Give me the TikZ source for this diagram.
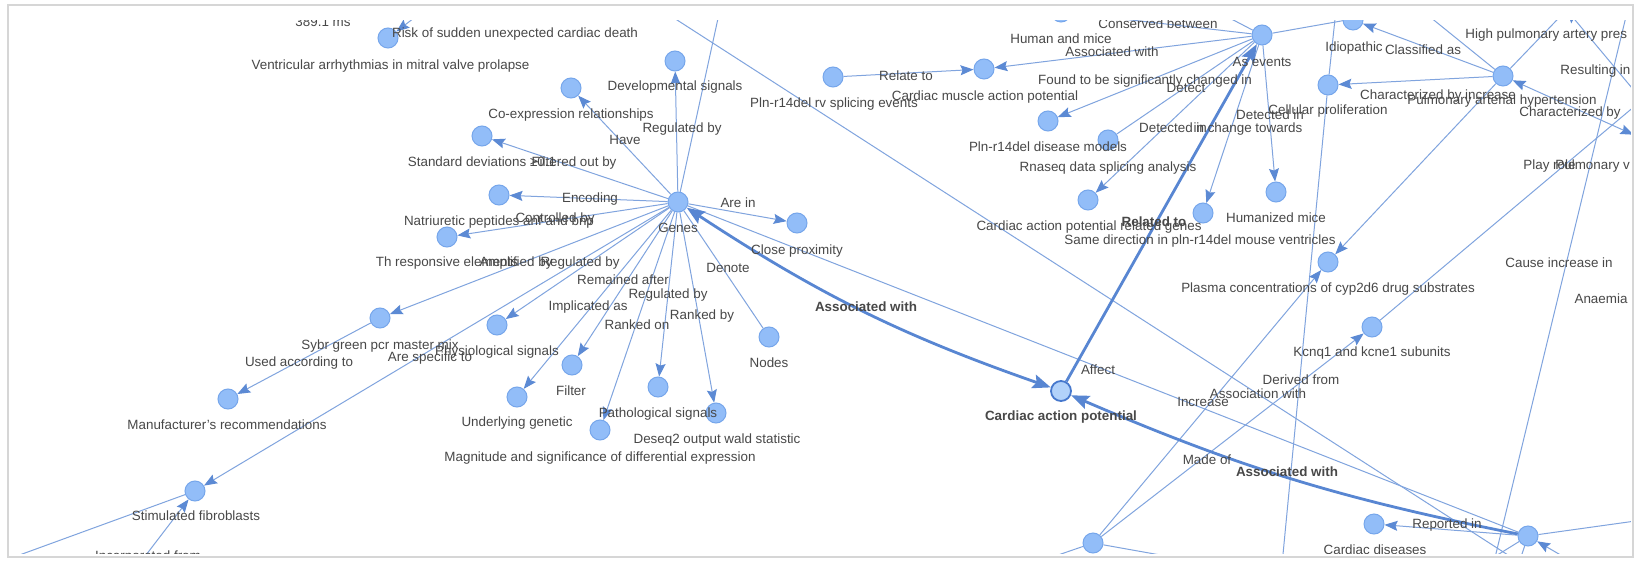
\documentclass[tikz,border=0pt]{standalone}
\usepackage{fontspec}
\setmainfont{Liberation Sans}
\usetikzlibrary{arrows.meta}
\pgfdeclarelayer{bgl}
\pgfdeclarelayer{edges}
\pgfsetlayers{bgl,edges,main}
\definecolor{edgec}{RGB}{128,164,222}
\definecolor{arrc}{RGB}{92,138,212}
\definecolor{thickc}{RGB}{88,134,210}
\definecolor{nfill}{RGB}{146,189,248}
\definecolor{nbord}{RGB}{118,166,235}
\definecolor{selfill}{RGB}{178,210,250}
\definecolor{selbord}{RGB}{70,120,205}
\definecolor{txtc}{RGB}{72,72,72}
\definecolor{framec}{RGB}{214,214,214}
\tikzset{
 vn/.style={circle, fill=nfill, draw=nbord, line width=0.5pt, minimum size=10pt, inner sep=0pt},
 vsel/.style={circle, fill=selfill, draw=selbord, line width=0.9pt, minimum size=10pt, inner sep=0pt},
 ed/.style={draw=edgec, line width=0.5pt},
 ea/.style={ed, -{Stealth[length=6.5pt,width=5pt,inset=1pt,color=arrc]}},
 eab/.style={ed, {Stealth[length=6.5pt,width=5pt,inset=1pt,color=arrc]}-{Stealth[length=6.5pt,width=5pt,inset=1pt,color=arrc]}},
 et/.style={draw=thickc, line width=1.4pt},
 eta/.style={et, -{Stealth[length=9pt,width=7pt,inset=1.5pt,color=thickc]}},
 etb/.style={et, {Stealth[length=9pt,width=7pt,inset=1.5pt,color=thickc]}-{Stealth[length=9pt,width=7pt,inset=1.5pt,color=thickc]}},
 lbl/.style={font=\fontsize{6.7}{8}\selectfont, text=txtc, inner sep=0pt, anchor=base, yshift=-2.2pt},
 lblw/.style={lbl, anchor=base west},
 lblb/.style={lbl, font=\fontsize{6.7}{8}\selectfont\bfseries},
}
\begin{document}
\begin{tikzpicture}[x=0.5pt,y=-0.5pt]
\useasboundingbox (0,0) rectangle (1642,561);
\begin{pgfonlayer}{bgl}
\fill[white] (0,0) rectangle (1642,561);
\end{pgfonlayer}
% ---------- nodes ----------
\node[vn] (vamvp) at (388,38) {};
\node[vn] (genes) at (678,202) {};
\node[vn] (devsig) at (675,61) {};
\node[vn] (coexp) at (571,88) {};
\node[vn] (stddev) at (482,136) {};
\node[vn] (natri) at (499,195) {};
\node[vn] (thresp) at (447,237) {};
\node[vn] (sybr) at (380,318) {};
\node[vn] (physio) at (497,325) {};
\node[vn] (manuf) at (228,399) {};
\node[vn] (stim) at (195,491) {};
\node[vn] (underl) at (517,397) {};
\node[vn] (filter) at (572,365) {};
\node[vn] (magn) at (600,430) {};
\node[vn] (patho) at (658,387) {};
\node[vn] (deseq) at (716,413) {};
\node[vn] (nodesn) at (769,337) {};
\node[vn] (closep) at (797,223) {};
\node[vsel] (cap) at (1061,391) {};
\node[vn] (asev) at (1262,35) {};
\node[vn] (cmap) at (984,69) {};
\node[vn] (plnrv) at (833,77) {};
\node[vn] (human) at (1061,12) {};
\node[vn] (plndm) at (1048,121) {};
\node[vn] (rnaseq) at (1108,140) {};
\node[vn] (caprg) at (1088,200) {};
\node[vn] (samedir) at (1203,213) {};
\node[vn] (humz) at (1276,192) {};
\node[vn] (cellp) at (1328,85) {};
\node[vn] (idio) at (1353,20) {};
\node[vn] (pah) at (1503,76) {};
\node[vn] (plasma) at (1328,262) {};
\node[vn] (kcnq) at (1372,327) {};
\node[vn] (cdis) at (1374,524) {};
\node[vn] (br) at (1528,536) {};
\node[vn] (bn) at (1093,543) {};
\node[vn] (highp) at (1560,2) {};
\node[vn] (ynode) at (1642,100) {};
\node[vn] (znode) at (1643,139) {};
% ---------- free ends ----------
\coordinate (cGtop) at (722,0);
\coordinate (cVamvp) at (440,-2);
\coordinate (cStimLL) at (-145,615);
\coordinate (cIncorp) at (110,602);
\coordinate (cL2a) at (646,0);
\coordinate (cL2b) at (1539,575);
\coordinate (cAsevNE) at (1460,0);
\coordinate (cAsevNW) at (1195,0);
\coordinate (cPahNW) at (1409,0);
\coordinate (cPahNE) at (1578,-2);
\coordinate (cVtop) at (1337,0);
\coordinate (cVbot) at (1281,575);
\coordinate (cSa) at (1630,0);
\coordinate (cSb) at (1492,570);
\coordinate (cBnL) at (1000,575);
\coordinate (cBnR) at (1250,571);
\coordinate (cBrR) at (1700,512);
\coordinate (cBrIn) at (1600,578);
\coordinate (cBrD1) at (1470,572);
\coordinate (cBrD2) at (1515,575);
% ---------- edges ----------
\begin{pgfonlayer}{edges}
\draw[ea] (genes) -- (devsig);
\draw[ea] (genes) -- (coexp);
\draw[ea] (genes) -- (stddev);
\draw[ea] (genes) -- (natri);
\draw[ea] (genes) -- (thresp);
\draw[ea] (genes) -- (sybr);
\draw[ea] (genes) -- (physio);
\draw[ea] (genes) -- (stim);
\draw[ea] (genes) -- (underl);
\draw[ea] (genes) -- (filter);
\draw[ea] (genes) -- (magn);
\draw[ea] (genes) -- (patho);
\draw[ea] (genes) -- (deseq);
\draw[ed] (genes) -- (nodesn);
\draw[ea] (genes) -- (closep);
\draw[ed] (cGtop) -- (genes);
\draw[ea] (sybr) -- (manuf);
\draw[ed] (stim) -- (cStimLL);
\draw[ea] (cIncorp) -- (stim);
\draw[ea] (cVamvp) -- (vamvp);
\draw[ed] (genes) -- (br);
\draw[ed] (cL2a) -- (cL2b);
\draw[ea] (plnrv) -- (cmap);
\draw[ea] (asev) -- (cmap);
\draw[ed] (human) -- (asev);
\draw[ea] (asev) -- (plndm);
\draw[ed] (asev) -- (rnaseq);
\draw[ea] (asev) -- (caprg);
\draw[ea] (asev) -- (samedir);
\draw[ea] (asev) -- (humz);
\draw[ed] (asev) -- (cAsevNE);
\draw[ed] (asev) -- (cAsevNW);
\draw[ea] (pah) -- (cellp);
\draw[ea] (pah) -- (idio);
\draw[ed] (pah) -- (cPahNW);
\draw[ed] (pah) -- (cPahNE);
\draw[ea] (pah) -- (plasma);
\draw[ea] (ynode) -- (highp);
\draw[ed] (kcnq) -- (ynode);
\draw[eab] (pah) -- (znode);
\draw[ed] (cVtop) -- (cellp);
\draw[ed] (cellp) -- (cVbot);
\draw[ed] (cSa) -- (cSb);
\draw[ea] (bn) -- (plasma);
\draw[ea] (bn) -- (kcnq);
\draw[ed] (bn) -- (cBnL);
\draw[ed] (bn) -- (cBnR);
\draw[ea] (br) -- (cdis);
\draw[ed] (br) -- (cBrR);
\draw[ea] (cBrIn) -- (br);
\draw[ed] (br) -- (cBrD1);
\draw[ed] (br) -- (cBrD2);
\draw[etb] (genes) to[bend right=7] (cap);
\draw[eta] (cap) -- (asev);
\draw[eta] (br) to[bend left=6] (cap);
\end{pgfonlayer}
% ---------- node labels ----------
\node[lbl] (t01) at (390.5,65) {Ventricular arrhythmias in mitral valve prolapse};
\node[lbl] (t02) at (515,33) {Risk of sudden unexpected cardiac death};
\node[lbl] (t03) at (323,22) {389.1 ms};
\node[lbl] (t04) at (675,86) {Developmental signals};
\node[lbl] (t05) at (571,114) {Co-expression relationships};
\node[lbl] (t06) at (482,162) {Standard deviations ≥0.1};
\node[lbl] (t07) at (499,221) {Natriuretic peptides anf and bnp};
\node[lbl] (t08) at (447,262) {Th responsive elements};
\node[lbl] (t09) at (380,345) {Sybr green pcr master mix};
\node[lbl] (t10) at (497,351) {Physiological signals};
\node[lbl] (t11) at (227,425) {Manufacturer's recommendations};
\node[lbl] (t12) at (196,516) {Stimulated fibroblasts};
\node[lbl] (t13) at (517,422) {Underlying genetic};
\node[lbl] (t14) at (571,391) {Filter};
\node[lbl] (t15) at (600,457) {Magnitude and significance of differential expression};
\node[lbl] (t16) at (658,413) {Pathological signals};
\node[lbl] (t17) at (717,439) {Deseq2 output wald statistic};
\node[lbl] (t18) at (769,363) {Nodes};
\node[lbl] (t19) at (797,250) {Close proximity};
\node[lbl] (t20) at (678,228) {Genes};
\node[lblb] (t21) at (1061,416) {Cardiac action potential};
\node[lbl] (t22) at (1262,62) {As events};
\node[lbl] (t23) at (985,96) {Cardiac muscle action potential};
\node[lbl] (t24) at (834,103) {Pln-r14del rv splicing events};
\node[lbl] (t25) at (1061,39) {Human and mice};
\node[lbl] (t26) at (1048,147) {Pln-r14del disease models};
\node[lbl] (t27) at (1108,167) {Rnaseq data splicing analysis};
\node[lbl] (t28) at (1089,226) {Cardiac action potential related genes};
\node[lbl] (t29) at (1200,240) {Same direction in pln-r14del mouse ventricles};
\node[lbl] (t30) at (1276,218) {Humanized mice};
\node[lbl] (t31) at (1328,110) {Cellular proliferation};
\node[lbl] (t32) at (1354,47) {Idiopathic};
\node[lbl] (t33) at (1502,100) {Pulmonary arterial hypertension};
\node[lbl] (t34) at (1328,288) {Plasma concentrations of cyp2d6 drug substrates};
\node[lbl] (t35) at (1372,352) {Kcnq1 and kcne1 subunits};
\node[lbl] (t36) at (1375,550) {Cardiac diseases};
\node[lblw] (t37) at (1465,34) {High pulmonary artery pres};
\node[lblw] (t38) at (1555,165) {Pulmonary v};
\node[lbl] (t39) at (1601,299) {Anaemia};
% ---------- edge labels ----------
\node[lbl] (e01) at (682,128) {Regulated by};
\node[lbl] (e02) at (625,140) {Have};
\node[lbl] (e03) at (574,162) {Filtered out by};
\node[lbl] (e04) at (590,198) {Encoding};
\node[lbl] (e05) at (555,218) {Controlled by};
\node[lbl] (e06) at (516,262) {Amplified by};
\node[lbl] (e07) at (580,262) {Regulated by};
\node[lbl] (e08) at (430,357) {Are specific to};
\node[lbl] (e09) at (299,362) {Used according to};
\node[lbl] (e10) at (148,556) {Incorporated from};
\node[lbl] (e11) at (588,306) {Implicated as};
\node[lbl] (e12) at (623,280) {Remained after};
\node[lbl] (e13) at (637,325) {Ranked on};
\node[lbl] (e14) at (668,294) {Regulated by};
\node[lbl] (e15) at (702,315) {Ranked by};
\node[lbl] (e16) at (728,268) {Denote};
\node[lbl] (e17) at (738,203) {Are in};
\node[lblb] (e18) at (866,307) {Associated with};
\node[lbl] (e19) at (1098,370) {Affect};
\node[lbl] (e20) at (906,76) {Relate to};
\node[lbl] (e21) at (1112,52) {Associated with};
\node[lbl] (e22) at (1158,24) {Conserved between};
\node[lbl] (e23) at (1145,80) {Found to be significantly changed in};
\node[lbl] (e24) at (1186,88) {Detect};
\node[lbl] (e25) at (1173,128) {Detected in};
\node[lbl] (e26) at (1248,128) {in change towards};
\node[lbl] (e27) at (1270,115) {Detected in};
\node[lblb] (e28) at (1154,222) {Related to};
\node[lbl] (e29) at (1438,95) {Characterized by increase};
\node[lbl] (e30) at (1423,50) {Classified as};
\node[lbl] (e31) at (1570,112) {Characterized by};
\node[lblw] (e32) at (1560,70) {Resulting in};
\node[lblw] (e33) at (1523,165) {Play role};
\node[lbl] (e34) at (1559,263) {Cause increase in};
\node[lbl] (e35) at (1301,380) {Derived from};
\node[lbl] (e36) at (1258,394) {Association with};
\node[lbl] (e37) at (1203,402) {Increase};
\node[lbl] (e38) at (1207,460) {Made of};
\node[lblb] (e39) at (1287,472) {Associated with};
\node[lbl] (e40) at (1447,524) {Reported in};
% ---------- viewport mask and frame ----------
\fill[white] (0,0) rectangle (1642,20.5);
\fill[white] (0,554) rectangle (1642,561);
\fill[white] (0,0) rectangle (9,561);
\fill[white] (1631,0) rectangle (1642,561);
\draw[framec, line width=1pt] (8,5) rectangle (1633,557);
\end{tikzpicture}
\end{document}
